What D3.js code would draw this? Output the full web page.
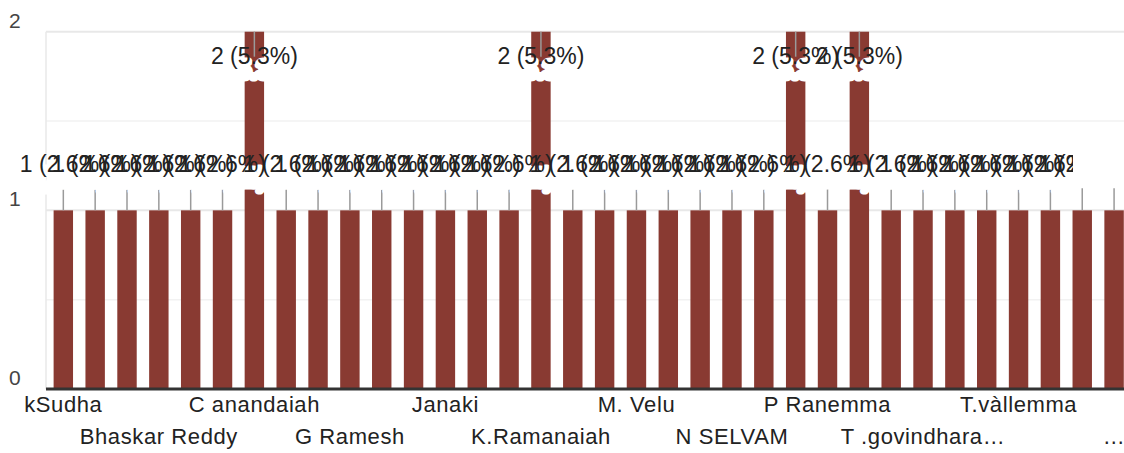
<!DOCTYPE html>
<html>
<head>
<meta charset="utf-8">
<script src="https://cdn.jsdelivr.net/npm/d3@7"></script>
<style>
  body { margin: 0; background: #fff; }
  text { font-family: Arial, "Liberation Sans", sans-serif; }
</style>
</head>
<body>
<div id="chart"></div>
<script>
var width = 1124, height = 453;

// responses, in the order the chart lists them
var names = [
  "kSudha", "A. Ramadevi", "Anjamma", "Bhaskar Reddy", "Bhavani", "C Lakshmi",
  "C anandaiah", "D Venkatesh", "E. Sarasu", "G Ramesh", "Gowri", "J. Murugan",
  "Janaki", "K Srinivasulu", "K.Prabhakar", "K.Ramanaiah", "Kanniyappan", "Lakshmamma",
  "M. Velu", "M.Saraswathi", "Muniyamma", "N SELVAM", "Narayanamma", "P Chandrasekhar",
  "P Ranemma", "R. Kumar", "S Padmavathi", "T .govindharajulu", "T Subramani", "T.muniraja",
  "T.vàllemma", "V. Lakshmi", "Vasantha", "Venkataramana Reddy Gari"
];
var counts = [
  1, 1, 1, 1, 1, 1,
  2, 1, 1, 1, 1, 1,
  1, 1, 1, 2, 1, 1,
  1, 1, 1, 1, 1, 2,
  1, 2, 1, 1, 1, 1,
  1, 1, 1, 1
];
var yTicks = [0, 1, 2];
var yMinor = [0.5, 1.5];

var barColor = "#893a32";
var total = d3.sum(counts);
var data = names.map(function(n, i) { return {name: n, value: counts[i], i: i}; });

var svg = d3.select("#chart").append("svg")
  .attr("width", width)
  .attr("height", height);

var x = d3.scaleBand()
  .domain(names)
  .range([47.4, 1130])
  .paddingInner(0.39)
  .paddingOuter(0.195);

var y = d3.scaleLinear()
  .domain([0, 2])
  .range([389, 31.7]);

var plotLeft = 46, plotRight = 1130;

// gridlines
svg.selectAll(".minor")
  .data(yMinor)
  .enter().append("line")
  .attr("x1", plotLeft).attr("x2", plotRight)
  .attr("y1", function(d) { return y(d); })
  .attr("y2", function(d) { return y(d); })
  .attr("stroke", "#f2f2f2")
  .attr("stroke-width", 1.5);

svg.selectAll(".major")
  .data(yTicks.filter(function(d) { return d > 0; }))
  .enter().append("line")
  .attr("x1", plotLeft).attr("x2", plotRight)
  .attr("y1", function(d) { return y(d); })
  .attr("y2", function(d) { return y(d); })
  .attr("stroke", "#e8e8e8")
  .attr("stroke-width", 2);

svg.append("line")
  .attr("x1", plotLeft).attr("x2", plotLeft)
  .attr("y1", y(2)).attr("y2", y(0))
  .attr("stroke", "#e8e8e8")
  .attr("stroke-width", 1.5);

// y labels
svg.selectAll(".ylab")
  .data(yTicks)
  .enter().append("text")
  .attr("x", 9)
  .attr("y", function(d) { return y(d) - 4; })
  .attr("fill", "#444")
  .style("font-size", "21px")
  .text(function(d) { return d; });

// bars
svg.selectAll(".bar")
  .data(data)
  .enter().append("rect")
  .attr("x", function(d) { return x(d.name); })
  .attr("y", function(d) { return y(d.value); })
  .attr("width", x.bandwidth())
  .attr("height", function(d) { return y(0) - y(d.value); })
  .attr("fill", barColor);

// annotation stems
function cx(d) { return x(d.name) + x.bandwidth() / 2; }
svg.selectAll(".stem")
  .data(data)
  .enter().append("line")
  .attr("x1", cx).attr("x2", cx)
  .attr("y1", function(d) { return y(d.value); })
  .attr("y2", function(d) { return d.value >= 2 ? y(d.value) + 25 : y(d.value) - 22; })
  .attr("stroke", "#9a9a9a")
  .attr("stroke-width", 1.5);

// annotations
svg.append("clipPath").attr("id", "annclip")
  .append("rect").attr("x", 0).attr("y", 0).attr("width", 1073).attr("height", height);

function annText(d) { return d.value + " (" + (d.value / total * 100).toFixed(1) + "%)"; }
function annY(d) { return d.value >= 2 ? y(d.value) + 32.3 : y(d.value) - 38; }

var ann = svg.append("g").attr("clip-path", "url(#annclip)");

// white under-print that Google leaves below each label
ann.selectAll(".ghost")
  .data(data)
  .enter().append("text")
  .attr("x", cx)
  .attr("y", function(d) { return annY(d) + 14; })
  .attr("text-anchor", "middle")
  .attr("fill", "#fff")
  .attr("stroke", "#fff")
  .attr("stroke-width", 7)
  .attr("stroke-linejoin", "round")
  .style("font-size", "23px")
  .text(annText);

ann.selectAll(".ann")
  .data(data)
  .enter().append("text")
  .attr("x", cx)
  .attr("y", annY)
  .attr("text-anchor", "middle")
  .attr("fill", "#222")
  .style("font-size", "23px")
  .text(annText);

// baseline
svg.append("line")
  .attr("x1", plotLeft).attr("x2", plotRight)
  .attr("y1", y(0)).attr("y2", y(0))
  .attr("stroke", "#333")
  .attr("stroke-width", 3);

// x labels, every third, two staggered rows
var maxLabel = 168;
svg.selectAll(".xlab")
  .data(data.filter(function(d) { return d.i % 3 === 0; }))
  .enter().append("text")
  .attr("x", cx)
  .attr("y", function(d) { return (d.i / 3) % 2 === 0 ? 412 : 444; })
  .attr("text-anchor", "middle")
  .attr("fill", "#222")
  .style("font-size", "22px")
  .style("letter-spacing", "0.6px")
  .text(function(d) { return d.name; })
  .each(function(d) {
    var el = d3.select(this);
    var c = cx(d);
    var room = Math.min(maxLabel, 2 * (width - c), 2 * c);
    var s = d.name;
    if (this.getComputedTextLength() <= room) return;
    while (s.length > 0) {
      s = s.slice(0, -1);
      el.text(s + "…");
      if (this.getComputedTextLength() <= room) break;
    }
    if (s.length === 0) el.text("…");
  });
</script>
</body>
</html>
